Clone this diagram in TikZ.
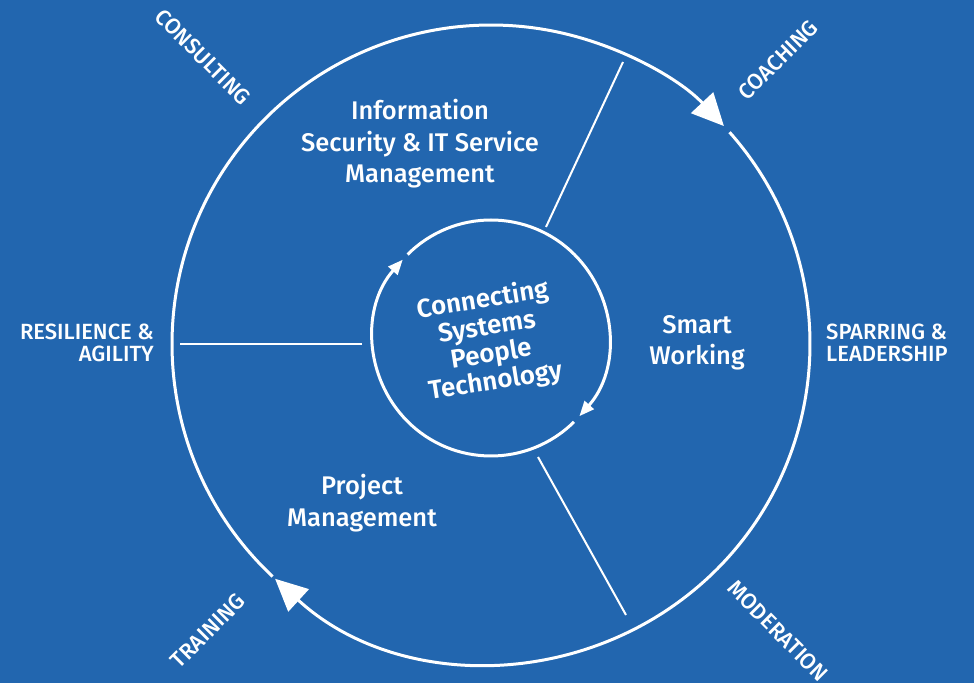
\documentclass[tikz,border=0pt]{standalone}
\usepackage{fontspec}
\setmainfont{Fira Sans}[UprightFont={* Medium}, BoldFont={* SemiBold}]
\usetikzlibrary{arrows.meta}
\definecolor{bgblue}{RGB}{34,102,175}

\begin{document}
\begin{tikzpicture}[x=1pt, y=1pt, white,
    ring/.style={line width=3pt},
    spoke/.style={line width=2pt},
    bigtip/.style={-{Triangle[length=32pt,width=30pt]}},
    smalltip/.style={-{Triangle[length=15pt,width=12pt]}},
    area/.style={align=center, font=\fontsize{25.5}{31.5}\selectfont},
    outer/.style={inner sep=0pt, font=\fontsize{22}{22.5}\selectfont}]
        \fill[bgblue] (0, 0) rectangle (974, 683);
        \useasboundingbox (0, 0) rectangle (974, 683);

        \coordinate (big) at (491, 339);
        \coordinate (small) at (491, 345);

        \draw[ring, bigtip] (big) ++(226.8:319) arc[start angle=226.8, end angle=43.1, radius=319];
        \draw[ring, bigtip] (big) ++(41.6:319) arc[start angle=41.6, end angle=-132.6, radius=319];
        \draw[ring, smalltip] (small) ++(135:118) arc[start angle=135, end angle=-41.5, radius=118];
        \draw[ring, smalltip] (small) ++(-45.3:118) arc[start angle=-45.3, end angle=-221.6, radius=118];

        \coordinate (top in) at (546, 456);
        \coordinate (top out) at (623, 621);
        \coordinate (left in) at (362, 339);
        \coordinate (left out) at (180, 339);
        \coordinate (low in) at (538, 226);
        \coordinate (low out) at (626, 68);
        \draw[spoke] (top in) -- (top out);
        \draw[spoke] (left in) -- (left out);
        \draw[spoke] (low in) -- (low out);

        \node[area] (infosec) at (420, 539) {Information\\Security \& IT Service\\Management};
        \node[area] (smart) at (697, 340) {Smart\\Working};
        \node[area] (project) at (362, 180) {Project\\Management};
        \node[align=center, rotate=9, font=\bfseries\fontsize{26}{27.5}\selectfont] (core) at (489, 342) {Connecting\\Systems\\People\\Technology};

        \node[outer, rotate=-45] (consulting) at (203, 626) {CONSULTING};
        \node[outer, rotate=45] (coaching) at (778, 623) {COACHING};
        \node[outer, align=left, anchor=west] (sparring) at (826, 340) {SPARRING \&\\LEADERSHIP};
        \node[outer, align=right, anchor=east] (resilience) at (154, 340) {RESILIENCE \&\\AGILITY};
        \node[outer, rotate=45] (training) at (208, 52) {TRAINING};
        \node[outer, rotate=-45] (moderation) at (778, 52) {MODERATION};

    \end{tikzpicture}
\end{document}
